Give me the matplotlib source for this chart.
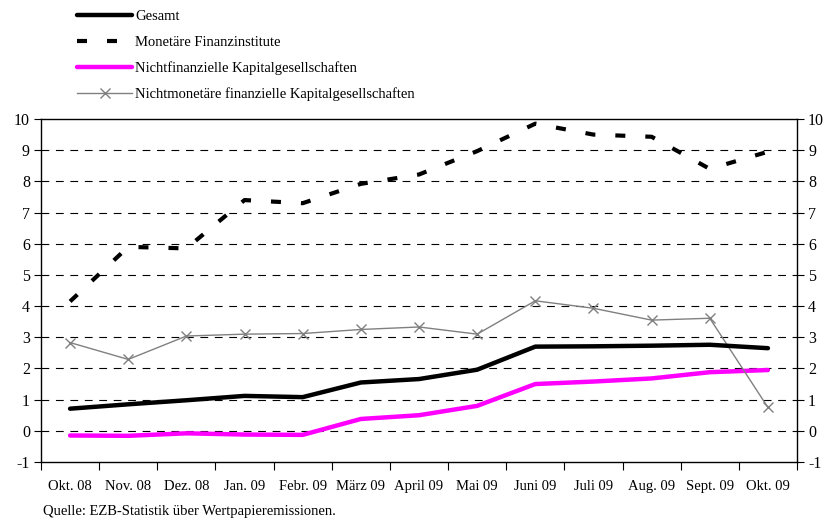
import matplotlib
matplotlib.use("Agg")
import matplotlib.pyplot as plt
import numpy as np

plt.rcParams['font.family'] = ['Liberation Serif', 'DejaVu Serif']
plt.rcParams['axes.unicode_minus'] = False

months = ['Okt. 08', 'Nov. 08', 'Dez. 08', 'Jan. 09', 'Febr. 09', 'März 09', 'April 09',
          'Mai 09', 'Juni 09', 'Juli 09', 'Aug. 09', 'Sept. 09', 'Okt. 09']
gesamt = [0.71, 0.85, 0.98, 1.12, 1.08, 1.55, 1.66, 1.96, 2.70, 2.71, 2.73, 2.76, 2.65]
monetaer = [4.15, 5.90, 5.85, 7.40, 7.30, 7.92, 8.22, 8.97, 9.85, 9.50, 9.43, 8.40, 8.95]
nichtfin = [-0.15, -0.16, -0.08, -0.12, -0.13, 0.38, 0.50, 0.80, 1.50, 1.58, 1.68, 1.88, 1.95]
nichtmon = [2.83, 2.29, 3.04, 3.10, 3.12, 3.25, 3.33, 3.10, 4.17, 3.93, 3.55, 3.61, 0.75]

x = np.arange(len(months))

fig = plt.figure(figsize=(8.32, 5.22), dpi=100)
ax = fig.add_axes([41/832, 60/522, 756/832, 343/522])

# gestrichelte Gitterlinien
for yv in range(0, 10):
    ax.axhline(yv, color='black', lw=0.8, dashes=(7, 6), zorder=1)

ax.plot(x, gesamt, color='black', lw=3.2, solid_capstyle='round', label='Gesamt', zorder=4)
ax.plot(x, monetaer, color='black', lw=3.0, dashes=(2.4, 4.8), label='Monetäre Finanzinstitute', zorder=4)
ax.plot(x, nichtfin, color='#ff00ff', lw=3.2, solid_capstyle='round',
        label='Nichtfinanzielle Kapitalgesellschaften', zorder=3)
ax.plot(x, nichtmon, color='#808080', lw=1.0, marker='x', ms=7, mew=1.0,
        label='Nichtmonetäre finanzielle Kapitalgesellschaften', zorder=3)

ax.set_xlim(-0.5, len(months) - 0.5)
ax.set_ylim(-1, 10)
ax.set_yticks(range(-1, 11))

# Striche zwischen den Kategorien, Beschriftung in der Mitte
ax.set_xticks(np.arange(-0.5, len(months), 1.0))
ax.set_xticklabels([])
ax.set_xticks(x, minor=True)
ax.set_xticklabels(months, minor=True)
ax.tick_params(axis='x', which='major', direction='out', length=6, width=0.8)
ax.tick_params(axis='x', which='minor', length=0, pad=13, labelsize=10.5)
ax.tick_params(axis='y', direction='out', length=5, width=0.8, labelsize=11.5,
               right=True, labelright=True, pad=3)

for s in ax.spines.values():
    s.set_linewidth(1.0)

fig.legend(loc='upper left', bbox_to_anchor=(77/832, 1 - 10/522), frameon=False,
           fontsize=10.5, handlelength=3.8, handletextpad=0.2, labelspacing=0.85,
           borderpad=0, borderaxespad=0, numpoints=1)

fig.text(43/832, 1 - 512/522, 'Quelle: EZB-Statistik über Wertpapieremissionen.',
         fontsize=10.5, va='center', ha='left')

fig.savefig('out.png', dpi=100)
